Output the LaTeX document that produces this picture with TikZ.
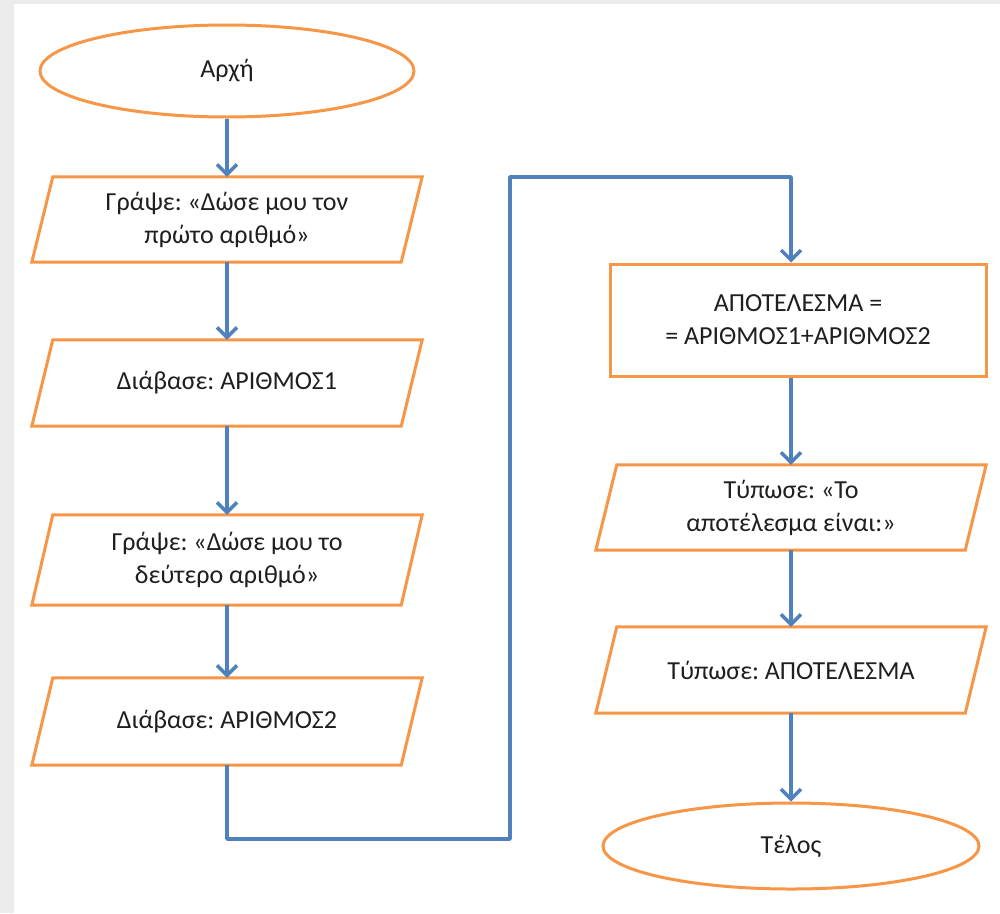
\documentclass[tikz,border=0pt]{standalone}
\usepackage{fontspec}
\setmainfont{Carlito}
\frenchspacing
\usetikzlibrary{shapes.geometric,arrows.meta}
\definecolor{boxorange}{HTML}{F79646}
\definecolor{flowblue}{HTML}{4F81BD}
\definecolor{pagegray}{HTML}{ECECEC}
\tikzset{
  base/.style={font=\fontsize{26}{33}\selectfont, text=black!88, align=center, inner sep=0pt},
  terminal/.style={base, ellipse, draw=boxorange, line width=3pt},
  process/.style={base, rectangle, draw=boxorange, line width=3pt},
  iobox/.style={base, rectangle, minimum width=369pt},
  ioframe/.style={draw=boxorange, line width=3pt, line join=miter},
  flow/.style={draw=flowblue, line width=3.5pt, line join=round,
    -{Straight Barb[length=10pt,width=20pt]}},
}
\begin{document}
\begin{tikzpicture}[x=1pt,y=-1pt]
  % page
  \fill[pagegray] (0,0) rectangle (1000,913);
  \fill[white] (14,4) rectangle (1000,913);
  \useasboundingbox (0,0) rectangle (1000,913);

  % left column
  \node[terminal, minimum width=374pt, minimum height=92pt] (start) at (227,71) {Αρχή};
  \node[iobox, minimum height=85pt] (p1) at (227,219.5) {Γράψε: «Δώσε μου τον\\πρώτο αριθμό»};
  \node[iobox, minimum height=86pt] (p2) at (227,383) {Διάβασε: ΑΡΙΘΜΟΣ1};
  \node[iobox, minimum height=90pt] (p3) at (227,560) {Γράψε: «Δώσε μου το\\δεύτερο αριθμό»};
  \node[iobox, minimum height=87pt] (p4) at (227,721.5) {Διάβασε: ΑΡΙΘΜΟΣ2};

  % right column
  \node[process, minimum width=376pt, minimum height=112pt] (calc) at (798,320) {ΑΠΟΤΕΛΕΣΜΑ =\\= ΑΡΙΘΜΟΣ1+ΑΡΙΘΜΟΣ2};
  \node[iobox, minimum height=85pt] (p5) at (791,507.5) {Τύπωσε: «Το\\αποτέλεσμα είναι:»};
  \node[iobox, minimum height=86pt] (p6) at (791,670) {Τύπωσε: ΑΠΟΤΕΛΕΣΜΑ};
  \node[terminal, minimum width=376pt, minimum height=86pt] (stop) at (791,846) {Τέλος};

  % slanted input/output frames
  \foreach \n in {p1,p2,p3,p4,p5,p6}
    \draw[ioframe] ([xshift=10.5pt]\n.north west) -- ([xshift=10.5pt]\n.north east)
      -- ([xshift=-10.5pt]\n.south east) -- ([xshift=-10.5pt]\n.south west) -- cycle;

  % connectors
  \draw[flow] (start.south) -- (p1.north);
  \draw[flow] (p1.south) -- (p2.north);
  \draw[flow] (p2.south) -- (p3.north);
  \draw[flow] (p3.south) -- (p4.north);

  \coordinate (lowturn) at (510,839);
  \coordinate (highturn) at (510,177);
  \draw[flow] (p4.south) |- (lowturn) -- (highturn) -| (p5.north |- calc.north);

  \draw[flow] (calc.south -| p5.north) -- (p5.north);
  \draw[flow] (p5.south) -- (p6.north);
  \draw[flow] (p6.south) -- (stop.north);
\end{tikzpicture}
\end{document}
